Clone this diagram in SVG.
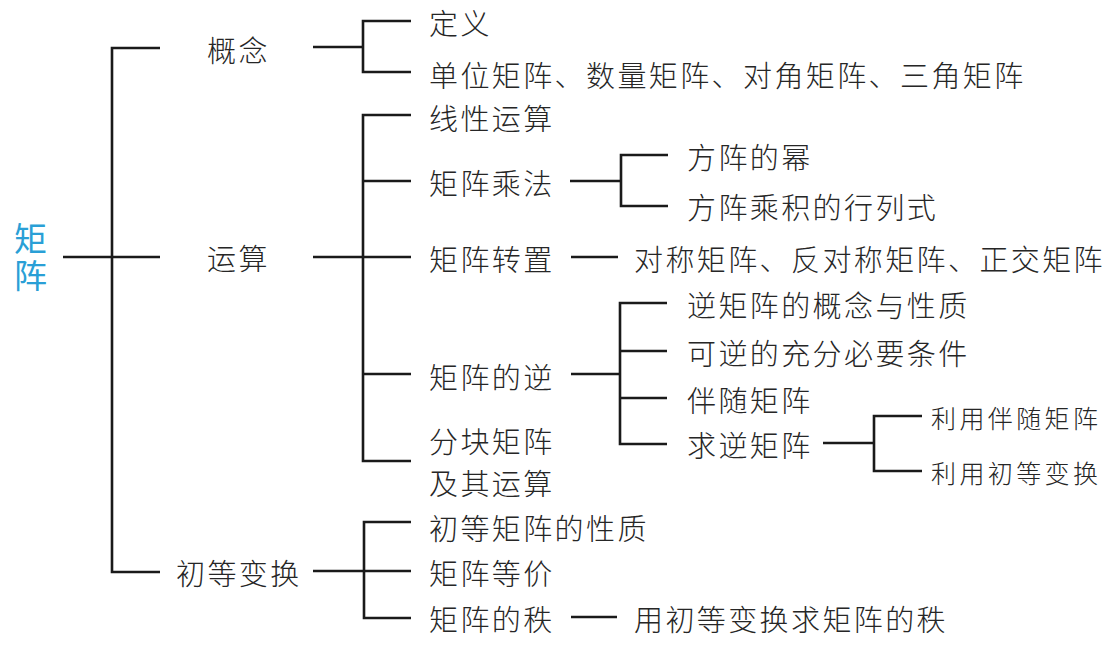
<svg xmlns="http://www.w3.org/2000/svg" width="1120" height="648" viewBox="0 0 1120 648">
  <style>
    .ln { stroke: #1a1a1a; stroke-width: 2.6; fill: none; stroke-linecap: butt; stroke-linejoin: miter; }
    text { font-family: "Noto Sans CJK SC", "Noto Sans", sans-serif; font-weight: 300; fill: #262626; dominant-baseline: central; }
    .t { font-size: 29px; letter-spacing: 2.4px; }
    .s { font-size: 25px; letter-spacing: 3.4px; }
    .root { font-size: 33px; fill: #2a9fd6; font-weight: 400; writing-mode: vertical-rl; letter-spacing: 4px; }
  </style>
  <rect width="1120" height="648" fill="#ffffff"/>

  <!-- connectors -->
  <g id="connectors" class="ln">
    <!-- root to level 1 -->
    <path d="M63 257H160"/>
    <path d="M160 48H112V572H160"/>
    <!-- 概念 -->
    <path d="M313 47H363"/>
    <path d="M411 21H363V72H411"/>
    <!-- 运算 -->
    <path d="M313 257H363"/>
    <path d="M411 115H363V461H411"/>
    <path d="M363 181H411M363 257H411M363 374H411"/>
    <!-- 矩阵乘法 -->
    <path d="M570 181H621"/>
    <path d="M668 155H621V206H668"/>
    <!-- 矩阵转置 -->
    <path d="M571 257H618"/>
    <!-- 矩阵的逆 -->
    <path d="M571 374H620"/>
    <path d="M667 303H620V444H667"/>
    <path d="M620 351H667M620 398H667"/>
    <!-- 求逆矩阵 -->
    <path d="M823 443H874"/>
    <path d="M922 416H874V471H922"/>
    <!-- 初等变换 -->
    <path d="M313 571H364"/>
    <path d="M411 522H364V618H411"/>
    <path d="M364 571H411"/>
    <!-- 矩阵的秩 -->
    <path d="M571 617H617"/>
  </g>

  <!-- root, set vertically -->
  <g id="n-root">
    <text class="root" x="30.5" y="222">矩阵</text>
  </g>

  <!-- level 1 -->
  <g id="n-gainian"><text class="t" x="207" y="49">概念</text></g>
  <g id="n-yunsuan"><text class="t" x="207" y="257">运算</text></g>
  <g id="n-chudeng"><text class="t" x="176" y="572">初等变换</text></g>

  <!-- 概念 children -->
  <g id="n-dingyi"><text class="t" x="429" y="22">定义</text></g>
  <g id="n-teshu"><text class="t" x="429" y="74">单位矩阵、数量矩阵、对角矩阵、三角矩阵</text></g>

  <!-- 运算 children -->
  <g id="n-xianxing"><text class="t" x="429" y="117">线性运算</text></g>
  <g id="n-chengfa"><text class="t" x="429" y="182">矩阵乘法</text></g>
  <g id="n-zhuanzhi"><text class="t" x="429" y="258">矩阵转置</text></g>
  <g id="n-ni"><text class="t" x="429" y="376">矩阵的逆</text></g>
  <g id="n-fenkuai">
    <text class="t"><tspan x="429" y="440">分块矩阵</tspan><tspan x="429" y="482">及其运算</tspan></text>
  </g>

  <!-- 矩阵乘法 children -->
  <g id="n-mi"><text class="t" x="687" y="156">方阵的幂</text></g>
  <g id="n-hanglieshi"><text class="t" x="687" y="206">方阵乘积的行列式</text></g>

  <!-- 矩阵转置 child -->
  <g id="n-duicheng"><text class="t" x="634" y="258">对称矩阵、反对称矩阵、正交矩阵</text></g>

  <!-- 矩阵的逆 children -->
  <g id="n-gainianxingzhi"><text class="t" x="687" y="304">逆矩阵的概念与性质</text></g>
  <g id="n-tiaojian"><text class="t" x="687" y="352">可逆的充分必要条件</text></g>
  <g id="n-bansui"><text class="t" x="687" y="399">伴随矩阵</text></g>
  <g id="n-qiuni"><text class="t" x="687" y="444">求逆矩阵</text></g>

  <!-- 求逆矩阵 children -->
  <g id="n-libansui"><text class="s" x="931" y="417">利用伴随矩阵</text></g>
  <g id="n-lichudeng"><text class="s" x="931" y="472">利用初等变换</text></g>

  <!-- 初等变换 children -->
  <g id="n-xingzhi"><text class="t" x="429" y="527">初等矩阵的性质</text></g>
  <g id="n-dengjia"><text class="t" x="429" y="572">矩阵等价</text></g>
  <g id="n-zhi"><text class="t" x="429" y="618">矩阵的秩</text></g>
  <g id="n-qiuzhi"><text class="t" x="634" y="618">用初等变换求矩阵的秩</text></g>
</svg>
